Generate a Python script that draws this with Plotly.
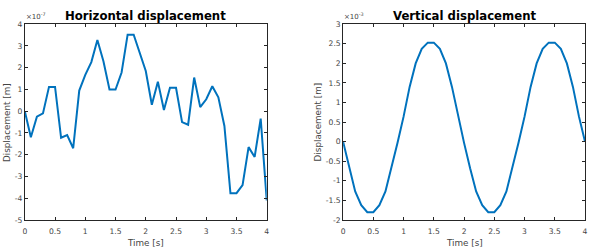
import plotly.graph_objects as go

W, H = 592, 251

time_s = [0.0, 0.1, 0.2, 0.3, 0.4, 0.5, 0.6, 0.7, 0.8, 0.9,
          1.0, 1.1, 1.2, 1.3, 1.4, 1.5, 1.6, 1.7, 1.8, 1.9,
          2.0, 2.1, 2.2, 2.3, 2.4, 2.5, 2.6, 2.7, 2.8, 2.9,
          3.0, 3.1, 3.2, 3.3, 3.4, 3.5, 3.6, 3.7, 3.8, 3.9, 4.0]

# horizontal displacement, in units of 1e-7 m
horiz_e7 = [0.0, -1.2, -0.25, -0.1, 1.12, 1.12, -1.22, -1.1, -1.7, 0.95,
            1.67, 2.26, 3.28, 2.3, 1.0, 1.0, 1.78, 3.52, 3.52, 2.7,
            1.85, 0.3, 1.36, 0.06, 1.08, 1.08, -0.5, -0.62, 1.55, 0.19,
            0.55, 1.15, 0.64, -0.68, -3.77, -3.77, -3.4, -1.65, -2.1, -0.34, -4.1]

# vertical displacement, in units of 1e-3 m
vert_e3 = [0.0, -0.66, -1.27, -1.62, -1.8, -1.8, -1.62, -1.27, -0.68, -0.03,
           0.64, 1.4, 2.0, 2.37, 2.53, 2.53, 2.37, 2.0, 1.4, 0.64,
           -0.03, -0.68, -1.27, -1.62, -1.8, -1.8, -1.62, -1.27, -0.68, -0.03,
           0.64, 1.4, 2.0, 2.37, 2.53, 2.53, 2.37, 2.0, 1.4, 0.64, 0.0]

x_ticks = [0, 0.5, 1, 1.5, 2, 2.5, 3, 3.5, 4]
x_tick_text = ["0", "0.5", "1", "1.5", "2", "2.5", "3", "3.5", "4"]
y1_ticks = [-5, -4, -3, -2, -1, 0, 1, 2, 3, 4]
y1_tick_text = ["-5", "-4", "-3", "-2", "-1", "0", "1", "2", "3", "4"]
y2_ticks = [-2, -1.5, -1, -0.5, 0, 0.5, 1, 1.5, 2, 2.5, 3]
y2_tick_text = ["-2", "-1.5", "-1", "-0.5", "0", "0.5", "1", "1.5", "2", "2.5", "3"]

titles = ["Horizontal displacement", "Vertical displacement"]
exponents = ["-7", "-3"]
x_label = "Time [s]"
y_label = "Displacement [m]"

LINE = "#0072BD"
AX = "#262626"
TXT = "#444444"
FONT = "DejaVu Sans"

# plot-area pixel boxes
L1, R1 = 23, 267
L2, R2 = 344, 588
TOP, BOT = 21, 224

def px(x):
    return x / W

def py(y):
    return (H - y) / H

fig = go.Figure()
fig.add_trace(go.Scatter(x=time_s, y=horiz_e7, mode="lines",
                         line=dict(color=LINE, width=2), xaxis="x", yaxis="y",
                         showlegend=False))
fig.add_trace(go.Scatter(x=time_s, y=vert_e3, mode="lines",
                         line=dict(color=LINE, width=2), xaxis="x2", yaxis="y2",
                         showlegend=False))

axis_common = dict(showgrid=False, zeroline=False, showline=True, linecolor=AX,
                   linewidth=0.8, mirror="ticks", ticks="inside", ticklen=3,
                   tickwidth=0.8, tickcolor=AX,
                   tickfont=dict(family=FONT, size=7.6, color=TXT))

fig.update_layout(
    width=W, height=H, margin=dict(l=0, r=0, t=0, b=0),
    paper_bgcolor="white", plot_bgcolor="white",
    xaxis=dict(domain=[px(L1), px(R1)], range=[0, 4], tickvals=x_ticks,
               ticktext=x_tick_text, anchor="y", ticklabelstandoff=4, **axis_common),
    yaxis=dict(domain=[py(BOT), py(TOP)], range=[-5, 4], tickvals=y1_ticks,
               ticktext=y1_tick_text, anchor="x", **axis_common),
    xaxis2=dict(domain=[px(L2), px(R2)], range=[0, 4], tickvals=x_ticks,
                ticktext=x_tick_text, anchor="y2", ticklabelstandoff=4, **axis_common),
    yaxis2=dict(domain=[py(BOT), py(TOP)], range=[-2, 3], tickvals=y2_ticks,
                ticktext=y2_tick_text, anchor="x2", **axis_common),
)

anns = []
for (l, r, ylx, title, ex) in [(L1, R1, 5, titles[0], exponents[0]),
                               (L2, R2, 319, titles[1], exponents[1])]:
    cx = (l + r) / 2
    anns.append(dict(text="<b>" + title + "</b>", x=px(cx), y=py(12),
                     xref="paper", yref="paper", showarrow=False,
                     xanchor="center", yanchor="middle",
                     font=dict(family=FONT, size=11.7, color="black")))
    anns.append(dict(text="×10<sup>" + ex + "</sup>", x=px(l - 1), y=py(20),
                     xref="paper", yref="paper", showarrow=False,
                     xanchor="left", yanchor="bottom",
                     font=dict(family=FONT, size=7, color=TXT)))
    anns.append(dict(text=x_label, x=px(cx), y=py(247.5),
                     xref="paper", yref="paper", showarrow=False,
                     xanchor="center", yanchor="middle",
                     font=dict(family=FONT, size=8.8, color=TXT)))
    anns.append(dict(text=y_label, x=px(ylx), y=py((TOP + BOT) / 2),
                     xref="paper", yref="paper", showarrow=False, textangle=-90,
                     xanchor="center", yanchor="middle",
                     font=dict(family=FONT, size=8.8, color=TXT)))
fig.update_layout(annotations=anns)

fig.write_html("out.html")
